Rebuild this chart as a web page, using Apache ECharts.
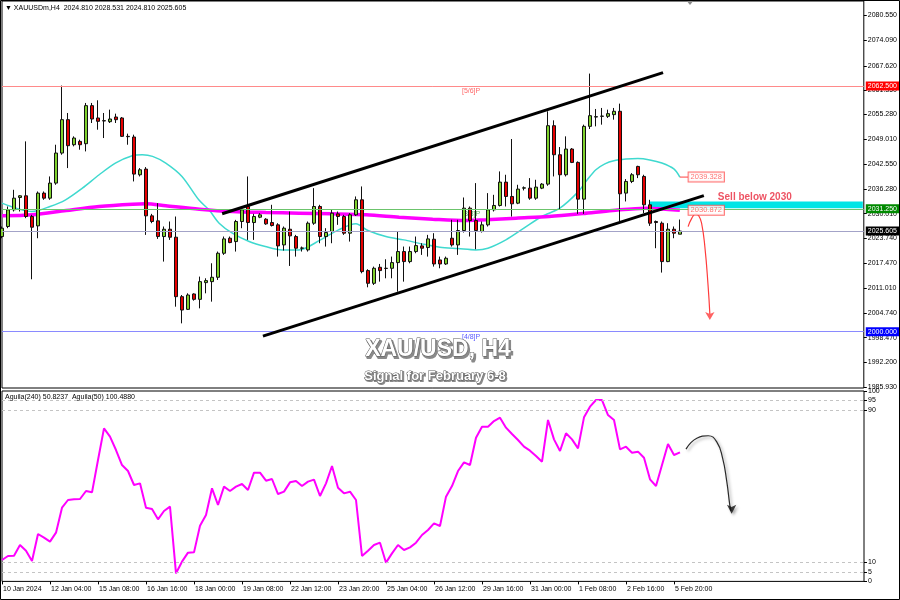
<!DOCTYPE html>
<html><head><meta charset="utf-8">
<script src="https://cdn.jsdelivr.net/npm/echarts@6/dist/echarts.min.js"></script>
<style>html,body{margin:0;padding:0;background:#fff}#c{width:900px;height:600px}</style>
</head><body><div id="c"></div>
<script>
// ---------- DATA ----------
const symbolName = 'XAUUSDm,H4';
const opens = [2024.21,2026.76,2031.00,2034.14,2034.57,2029.30,2026.92,2035.25,2033.97,2037.80,
2045.44,2053.93,2047.56,2048.41,2047.82,2057.50,2054.36,2053.68,2053.42,2054.61,
2054.36,2049.69,2049.52,2039.92,2041.36,2029.47,2028.20,2024.21,2026.07,2024.04,
2008.92,2005.69,2009.60,2008.24,2012.49,2012.74,2013.85,2019.96,2023.78,2022.93,
2028.03,2031.85,2027.77,2029.13,2028.62,2027.77,2027.18,2022.08,2026.07,2024.21,
2021.24,2020.81,2027.60,2031.85,2024.21,2025.48,2029.98,2029.30,2025.06,2029.73,
2033.55,2015.55,2012.32,2016.39,2016.14,2016.14,2017.58,2020.39,2017.84,2020.39,
2021.83,2021.41,2023.53,2018.26,2017.24,2023.78,2022.08,2025.74,2031.43,2028.28,
2025.48,2027.18,2031.00,2032.11,2038.05,2034.40,2032.70,2036.52,2036.52,2033.97,
2036.52,2037.54,2052.40,2045.01,2039.92,2046.46,2043.06,2033.72,2052.23,2054.60,
2054.78,2054.78,2055.21,2056.06,2035.25,2038.22,2042.04,2039.49,2032.28,2028.03,
2027.60,2017.84,2026.07,2024.81];
const highs = [2026.76,2031.85,2036.10,2034.74,2048.41,2029.73,2035.67,2035.67,2039.49,2047.56,
2062.60,2055.63,2049.69,2048.84,2058.18,2058.18,2058.86,2055.63,2056.48,2055.46,
2054.61,2050.37,2050.11,2041.62,2041.87,2029.98,2032.70,2026.76,2028.03,2029.30,
2009.34,2009.77,2009.77,2014.02,2013.59,2017.41,2020.39,2024.21,2024.21,2028.45,
2031.85,2039.49,2029.98,2030.15,2028.88,2032.28,2027.60,2026.76,2030.58,2024.63,
2021.66,2028.03,2036.52,2032.28,2026.33,2031.00,2030.58,2029.73,2030.15,2034.40,
2036.95,2015.89,2016.56,2017.24,2018.43,2019.11,2025.48,2021.66,2021.66,2024.21,
2022.51,2024.63,2025.06,2019.11,2019.11,2028.45,2028.45,2034.14,2031.85,2037.80,
2028.03,2035.25,2034.82,2040.77,2039.92,2049.01,2037.37,2036.95,2039.07,2038.65,
2037.80,2056.06,2053.76,2046.97,2049.69,2046.71,2043.32,2052.66,2065.65,2056.65,
2056.91,2056.48,2056.91,2058.01,2038.82,2040.34,2042.21,2039.92,2033.55,2028.28,
2028.03,2027.60,2026.76,2028.531];
const lows = [2023.78,2026.33,2030.58,2030.58,2028.88,2013.34,2023.78,2033.55,2033.55,2037.37,
2045.01,2041.62,2047.14,2046.29,2045.86,2053.08,2051.38,2049.26,2053.08,2053.08,
2049.52,2047.56,2038.22,2039.49,2024.63,2027.60,2023.61,2017.84,2023.36,2006.37,
2002.13,2005.52,2007.90,2005.95,2009.77,2007.65,2013.17,2019.54,2022.51,2020.39,
2026.33,2023.36,2023.36,2028.88,2027.18,2026.76,2019.11,2020.64,2016.73,2019.11,
2020.39,2020.39,2027.18,2022.51,2021.66,2022.51,2027.18,2024.63,2022.93,2029.47,
2014.86,2011.30,2011.89,2012.74,2013.59,2013.59,2010.19,2012.74,2017.41,2019.96,
2019.54,2019.11,2016.56,2016.14,2016.99,2021.66,2019.54,2025.23,2024.21,2020.98,
2025.23,2026.76,2030.58,2031.85,2031.85,2029.30,2032.45,2035.93,2033.55,2033.55,
2036.27,2037.12,2039.49,2031.00,2039.49,2042.89,2029.98,2029.98,2051.55,2052.23,
2052.66,2054.36,2053.93,2028.03,2033.13,2037.80,2039.07,2030.15,2026.92,2021.24,
2015.04,2017.70,2023.78,2024.81];
const closes = [2026.33,2031.00,2033.97,2034.57,2029.30,2026.58,2035.25,2033.97,2037.80,2045.44,
2053.93,2047.31,2049.26,2047.56,2057.50,2054.10,2053.51,2053.60,2054.10,2053.93,
2049.69,2049.60,2040.09,2041.19,2029.47,2028.03,2024.21,2026.07,2024.04,2008.92,
2005.52,2009.34,2008.24,2012.74,2013.00,2013.85,2019.96,2023.61,2022.68,2028.03,
2031.00,2027.77,2029.30,2029.73,2027.43,2027.01,2021.83,2026.33,2024.38,2021.24,
2021.30,2027.60,2031.85,2024.21,2025.23,2030.15,2029.30,2025.06,2029.73,2033.55,
2015.29,2012.32,2016.14,2015.55,2016.10,2017.58,2020.39,2017.84,2020.39,2021.91,
2021.24,2023.61,2017.24,2017.24,2018.69,2022.08,2025.74,2031.43,2028.28,2025.74,
2027.18,2031.00,2032.11,2038.05,2034.40,2032.53,2036.27,2036.60,2033.97,2036.78,
2037.54,2052.40,2045.01,2039.92,2046.46,2043.06,2033.72,2052.23,2054.95,2054.70,
2054.85,2055.46,2056.06,2035.08,2038.22,2039.92,2039.92,2032.28,2027.60,2027.77,
2017.84,2026.07,2025.06,2025.605];

// moving averages: [candle index, price]
const cyanMA = [[0,2032.70],[5,2030.58],[8,2031.85],[10.6,2033.55],[13.4,2036.52],[16.2,2039.92],
[18.9,2042.89],[21.7,2044.76],[23.4,2045.01],[25.1,2044.59],[27.3,2042.89],[30,2039.49],
[32.8,2033.55],[34.5,2031.00],[36.2,2027.60],[38.4,2025.06],[41.2,2022.93],[43.9,2021.66],
[46.7,2020.81],[49.5,2020.81],[53.1,2023.36],[56.1,2025.91],[59,2027.43],[61,2025.74],
[64,2024.21],[67,2023.36],[70,2022.34],[73,2021.49],[76,2021.15],[79,2020.81],[81,2021.24],
[84,2023.36],[87,2026.33],[90,2029.30],[93,2031.43],[96,2035.5],[97.5,2038.5],[99,2041.2],
[100.5,2042.7],[102,2043.5],[104,2043.9],[106,2044.05],[108,2043.7],[110,2042.9],[112,2041.4],[113,2039.33]];
const magentaMA = [[0,2029.47],[5.1,2029.73],[10.7,2030.83],[16.2,2031.85],[21.8,2032.45],[24,2032.53],
[27.3,2032.02],[32.9,2031.17],[38.4,2030.58],[44,2030.32],[49.5,2030.15],[55.1,2029.98],
[60.7,2029.73],[66.2,2029.13],[71.8,2028.62],[77.3,2028.28],[80.7,2028.45],[85.7,2028.88],
[91.2,2029.30],[96.8,2030.05],[101.8,2030.83],[107.3,2031.43],[113,2030.87]];
const cyanEndLabel = 2039.328;
const magentaEndLabel = 2030.872;

// oscillator (Aguila) one value per candle
const aguila = [11.24,13.34,13.52,19.12,16.14,10.71,24.9,22.97,20.87,25.6,
38.72,42.75,43.1,43.27,47.48,46.78,63.76,80.39,76.0,69.0,
61.13,57.98,50.63,51.5,38.72,38.02,32.6,36.97,39.25,4.24,
10.36,15.09,15.26,29.27,34.87,48.88,40.12,49.75,47.48,49.75,
51.15,48.0,57.1,57.1,52.9,53.78,45.9,47.13,52.03,52.73,
50.1,52.38,53.43,44.85,51.5,60.6,49.23,46.25,47.13,42.75,
13.34,16.14,19.12,20.34,9.84,14.74,19.12,16.49,17.89,20.34,
24.37,27.0,30.5,29.1,44.5,50.1,57.98,62.53,61.13,75.49,
81.27,81.27,84.24,86.0,80.74,77.42,74.26,70.76,68.66,65.86,
62.88,84.77,74.61,68.49,77.77,74.61,69.89,86.17,91.77,95.27,
95.27,87.39,84.77,69.36,70.76,67.61,68.14,64.98,53.6,50.1,
61.13,72.16,66.39,67.79];
const oscLegend = 'Aguila(240) 50.8237  Aguila(50) 100.4880';
const oscLevels = [95, 90, 10, 5];
const oscTicks = [100, 95, 90, 10, 5, 0];

// axis tick labels
const xTickLabels = ['10 Jan 2024','12 Jan 04:00','15 Jan 08:00','16 Jan 16:00','18 Jan 00:00','19 Jan 08:00',
'22 Jan 12:00','23 Jan 20:00','25 Jan 04:00','26 Jan 12:00','29 Jan 16:00','31 Jan 00:00','1 Feb 08:00','2 Feb 16:00','5 Feb 20:00'];
const xTickStep = 8;
const priceTicks = [2080.55,2074.09,2067.62,2061.35,2055.28,2049.01,2042.55,2036.28,2030.01,2023.74,2017.47,2011.01,2004.74,1998.47,1992.20,1985.93];

// levels & drawn objects
const levelPrices = [2062.5, 2031.25, 2000.0];
const levelNames = ['[5/6]P', '[3/8]P', '[4/8]P'];
const upperChannel = [[36.7, 2030.0], [110.2, 2065.9]];
const lowerChannel = [[43.5, 1998.9], [117, 2034.6]];
const sellZone = [[108, 2033.1], [143.5, 2031.4]];
const sellText = 'Sell below 2030';
const sellTextPos = [125.5, 2034.3];
const redPath = [[114.38,2026.71],[115,2028.9],[115.67,2029.94],[116.17,2029.43],[116.62,2027.65],[117.17,2021.62],[117.72,2011.45],[118,2004.5]];
const redArrowHead = [118, 2003.0];
const blackPath = [[114,69.5],[115.8,75.2],[117.7,76.5],[119.1,73.4],[120.1,64.7],[120.8,52.4],[121.3,40.1],[121.5,37]];
const blackArrowHead = [121.6, 35.5];
const titleMain = 'XAU/USD, H4';
const titleSub = 'Signal for February 6-8';

// ---------- CHART ----------
const FONT = "'Liberation Sans', Arial, 'DejaVu Sans', sans-serif";
const X_MAX = 862 / 6;
const last = opens.length - 1;
const candleData = opens.map((o, i) => [i, o, closes[i], lows[i], highs[i]]);
const tickIdx = xTickLabels.map((_, k) => k * xTickStep);
const aguilaData = aguila.map((v, i) => [i, v]);
const levelColors = ['#ff8a8a', '#6cc46c', '#8a8aff'];
const levelTagBg = ['#ff0000', '#008a00', '#0000ff'];
const levelTextColors = ['#ff4040', '#2e9e2e', '#3030ff'];
const labelX = 78.2;

const header = '\u25BC ' + symbolName + '  ' + [opens[last], highs[last], lows[last], closes[last]].map(v => v.toFixed(3)).join(' ');

const chart = echarts.init(document.getElementById('c'), null, {renderer: 'canvas'});
const option = {
  animation: false,
  backgroundColor: '#fff',
  textStyle: {fontFamily: FONT},
  grid: [
    {left: 2, top: 1, width: 862, height: 387, show: true, borderColor: '#000', borderWidth: 1, backgroundColor: '#fff'},
    {left: 2, top: 391, width: 862, height: 190.4, show: true, borderColor: '#000', borderWidth: 1, backgroundColor: '#fff'}
  ],
  xAxis: [
    {type: 'value', gridIndex: 0, min: 0, max: X_MAX, show: false, axisLine: {onZero: false}},
    {type: 'value', gridIndex: 1, min: 0, max: X_MAX, position: 'bottom',
      axisLine: {show: false, onZero: false}, splitLine: {show: false},
      axisTick: {show: true, customValues: tickIdx, length: 3, lineStyle: {color: '#000'}},
      axisLabel: {customValues: tickIdx, formatter: v => xTickLabels[Math.round(v / xTickStep)] || '',
        align: 'left', fontSize: 7, color: '#000', margin: 4, fontFamily: FONT, padding: [0, 0, 0, 1]}}
  ],
  yAxis: [
    {type: 'value', gridIndex: 0, position: 'right', min: 1985.69, max: 2084.11,
      axisLine: {show: false, onZero: false}, splitLine: {show: false},
      axisTick: {show: true, customValues: priceTicks, length: 3, lineStyle: {color: '#000'}},
      axisLabel: {customValues: priceTicks, formatter: v => v.toFixed(3), fontSize: 7, color: '#000', margin: 4, fontFamily: FONT}},
    {type: 'value', gridIndex: 1, position: 'right', min: 0, max: 100,
      axisLine: {show: false, onZero: false}, splitLine: {show: false},
      axisTick: {show: true, customValues: oscTicks, length: 3, lineStyle: {color: '#000'}},
      axisLabel: {customValues: oscTicks, fontSize: 7, color: '#000', margin: 4, fontFamily: FONT}}
  ],
  series: [
    // sell zone rectangle
    {type: 'line', xAxisIndex: 0, yAxisIndex: 0, data: [], z: 1,
      markArea: {silent: true, itemStyle: {color: '#00e5e5', opacity: 1},
        data: [[{coord: sellZone[0]}, {coord: sellZone[1]}]]}},
    // level lines with right-side price tags
    {type: 'line', xAxisIndex: 0, yAxisIndex: 0, data: [], z: 1,
      markLine: {silent: true, symbol: 'none', animation: false,
        data: levelPrices.map((p, k) => ({yAxis: p, lineStyle: {color: levelColors[k], width: 1, type: 'solid'},
          label: {show: true, position: 'end', distance: 2, formatter: p.toFixed(3), color: '#fff', backgroundColor: levelTagBg[k],
            padding: [1, 2, 0, 2], fontSize: 7, fontFamily: FONT, lineHeight: 8}})).concat([
          {yAxis: closes[last], lineStyle: {color: '#a3a3c8', width: 1, type: 'solid'},
            label: {show: true, position: 'end', distance: 2, formatter: closes[last].toFixed(3), color: '#fff', backgroundColor: '#000',
              padding: [1, 2, 0, 2], fontSize: 7, fontFamily: FONT, lineHeight: 8}}])}},
    // level names
    {type: 'scatter', xAxisIndex: 0, yAxisIndex: 0, z: 1, symbolSize: 1, itemStyle: {color: 'rgba(0,0,0,0)'},
      data: levelPrices.map((p, k) => ({value: [labelX, p],
        label: {show: true, position: 'bottom', distance: 1, formatter: levelNames[k], color: levelTextColors[k], fontSize: 7, fontFamily: FONT}}))},
    // moving averages
    {type: 'line', xAxisIndex: 0, yAxisIndex: 0, data: cyanMA, smooth: 0.3, showSymbol: false, z: 2,
      lineStyle: {color: '#3fd9cf', width: 1.5}},
    {type: 'line', xAxisIndex: 0, yAxisIndex: 0, data: magentaMA, smooth: 0.3, showSymbol: false, z: 2,
      lineStyle: {color: '#ff00ff', width: 3.5}},
    // candles
    {type: 'candlestick', xAxisIndex: 0, yAxisIndex: 0, data: candleData, barWidth: 4, z: 4,
      itemStyle: {color: '#7fd12e', color0: '#e60000', borderColor: '#111', borderColor0: '#111', borderWidth: 1}},
    // channel
    {type: 'line', xAxisIndex: 0, yAxisIndex: 0, data: upperChannel, showSymbol: false, z: 6, lineStyle: {color: '#000', width: 3}},
    {type: 'line', xAxisIndex: 0, yAxisIndex: 0, data: lowerChannel, showSymbol: false, z: 6, lineStyle: {color: '#000', width: 3}},
    // MA end labels
    {type: 'line', xAxisIndex: 0, yAxisIndex: 0, data: [[113, cyanEndLabel], [114.38, cyanEndLabel]], showSymbol: false, z: 6,
      lineStyle: {color: '#ff4040', width: 1}},
    {type: 'scatter', xAxisIndex: 0, yAxisIndex: 0, z: 7, symbolSize: 1, itemStyle: {color: 'rgba(0,0,0,0)'},
      data: [cyanEndLabel, magentaEndLabel].map(v => ({value: [114.38, v],
        label: {show: true, position: 'right', distance: 0, formatter: v.toFixed(3), color: '#ff4d4d', backgroundColor: '#fff',
          borderColor: '#ff4d4d', borderWidth: 1, padding: [1, 2, 0, 2], fontSize: 7.5, fontFamily: FONT, lineHeight: 8}}))},
    // sell text
    {type: 'scatter', xAxisIndex: 0, yAxisIndex: 0, z: 7, symbolSize: 1, itemStyle: {color: 'rgba(0,0,0,0)'},
      data: [{value: sellTextPos, label: {show: true, position: 'inside', formatter: sellText, color: '#e8283c',
        fontWeight: 'bold', fontSize: 10, fontFamily: FONT}}]},
    // red projection arrow
    {type: 'line', xAxisIndex: 0, yAxisIndex: 0, data: redPath, smooth: 0.5, showSymbol: false, z: 7,
      lineStyle: {color: '#ff3b3b', width: 1.2}},
    {type: 'scatter', xAxisIndex: 0, yAxisIndex: 0, data: [redArrowHead], symbol: 'arrow', symbolRotate: 180,
      symbolSize: [7, 8], z: 7, itemStyle: {color: '#ff3b3b'}},
    // oscillator
    {type: 'line', xAxisIndex: 1, yAxisIndex: 1, data: aguilaData, showSymbol: false, z: 3,
      lineStyle: {color: '#ff00ff', width: 2},
      markLine: {silent: true, symbol: 'none', label: {show: false},
        lineStyle: {color: '#c4c4c4', width: 1, type: [3, 3]},
        data: oscLevels.map(v => ({yAxis: v}))}},
    {type: 'line', xAxisIndex: 1, yAxisIndex: 1, data: blackPath, smooth: 0.5, showSymbol: false, z: 5,
      lineStyle: {color: '#2a2a2a', width: 1.2, shadowColor: 'rgba(0,0,0,0.35)', shadowBlur: 3, shadowOffsetX: 2, shadowOffsetY: 2}},
    {type: 'scatter', xAxisIndex: 1, yAxisIndex: 1, data: [blackArrowHead], symbol: 'arrow', symbolRotate: 180,
      symbolSize: [7, 9], z: 5, itemStyle: {color: '#111', shadowColor: 'rgba(0,0,0,0.35)', shadowBlur: 3, shadowOffsetX: 2, shadowOffsetY: 2}}
  ],
  graphic: [
    {type: 'text', x: 5, y: 8, z: 100, style: {text: header, font: '7px ' + FONT, fill: '#000', textVerticalAlign: 'middle', verticalAlign: 'middle'}},
    {type: 'text', x: 5, y: 397, z: 100, style: {text: oscLegend, font: '7px ' + FONT, fill: '#000', textVerticalAlign: 'middle', verticalAlign: 'middle'}},
    {type: 'polygon', z: 100, shape: {points: [[686, 0], [694, 0], [690, 5]]}, style: {fill: '#8a8a8a'}},
    // shadow copies (dark, offset) then white text with thin outline
    {type: 'text', x: 439.5, y: 352, z: 99, style: {text: titleMain, font: 'bold 23px ' + FONT, fill: '#8a8a8a', stroke: '#8a8a8a', lineWidth: 2,
      textAlign: 'center', align: 'center', textVerticalAlign: 'middle', verticalAlign: 'middle'}},
    {type: 'text', x: 438, y: 350, z: 100, style: {text: titleMain, font: 'bold 23px ' + FONT, fill: '#fff', stroke: '#5a5a5a', lineWidth: 1,
      textAlign: 'center', align: 'center', textVerticalAlign: 'middle', verticalAlign: 'middle'}},
    {type: 'text', x: 436, y: 377.3, z: 99, style: {text: titleSub, font: 'bold 13px ' + FONT, fill: '#8a8a8a', stroke: '#8a8a8a', lineWidth: 2,
      textAlign: 'center', align: 'center', textVerticalAlign: 'middle', verticalAlign: 'middle'}},
    {type: 'text', x: 435, y: 376, z: 100, style: {text: titleSub, font: 'bold 13px ' + FONT, fill: '#fff', stroke: '#5a5a5a', lineWidth: 0.8,
      textAlign: 'center', align: 'center', textVerticalAlign: 'middle', verticalAlign: 'middle'}},
    {type: 'rect', z: 100, shape: {x: 0.5, y: 0.5, width: 899, height: 599}, style: {fill: null, stroke: '#000', lineWidth: 1}}
  ]
};
chart.setOption(option);
</script>
</body></html>
